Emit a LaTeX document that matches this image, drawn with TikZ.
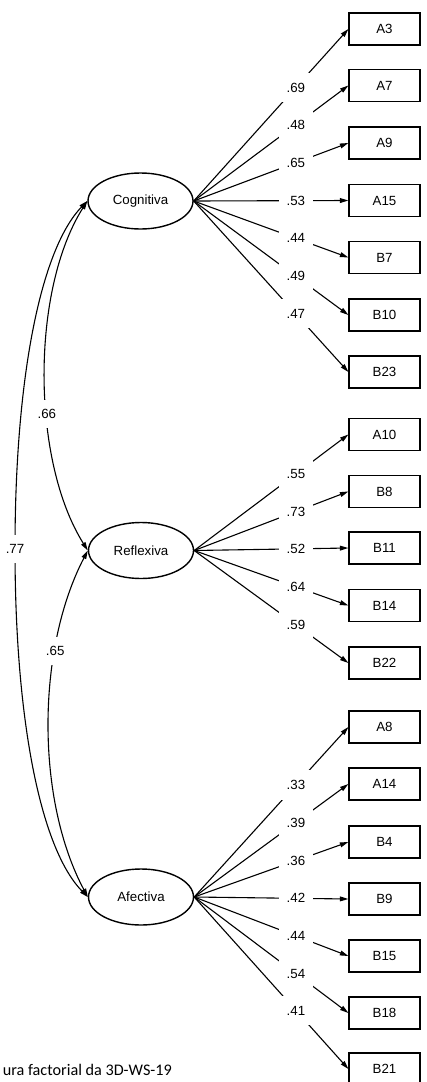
\documentclass[tikz,border=0pt]{standalone}
\usepackage{fontspec}
\setmainfont{Liberation Sans}
\newfontfamily\capfont{Carlito}
\usetikzlibrary{arrows.meta,shapes.geometric}
\begin{document}
\begin{tikzpicture}[x=1pt,y=-1pt,
  font=\fontsize{13.3}{15}\selectfont,
  obs/.style={draw, line width=1.2pt, minimum width=71pt, minimum height=32pt, inner sep=0pt},
  lat/.style={draw, ellipse, line width=1.4pt, minimum width=105pt, minimum height=56pt, inner sep=0pt},
  tip/.tip={Triangle[length=8.5pt,width=4.8pt]},
  load/.style={line width=1.1pt, -tip},
  cov/.style={line width=1.1pt, tip-tip},
  lbl/.style={fill=white, inner xsep=7.5pt, inner ysep=10pt, pos=0.66},
  clbl/.style={fill=white, inner xsep=3pt, inner ysep=9pt}
]
\useasboundingbox (0,0) rectangle (427,1082);

% latent variables
\node[lat] (cog) at (140.5,201) {Cognitiva};
\node[lat] (ref) at (141,550.5) {Reflexiva};
\node[lat] (afe) at (141,897) {Afectiva};

% observed variables
\foreach \n/\y in {A3/29, A7/85.5, A9/143, A15/200.5, B7/257.5, B10/315, B23/372,
                   A10/434.5, B8/491.5, B11/548, B14/605.5, B22/663,
                   A8/727, A14/784, B4/842, B9/899, B15/956, B18/1013, B21/1069}
  \node[obs] (\n) at (384.5,\y) {\n};

% loadings
\foreach \n/\v in {A3/.69, A7/.48, A9/.65, A15/.53, B7/.44, B10/.49, B23/.47}
  \draw[load] (cog.east) -- node[lbl] {\v} (\n.west);
\foreach \n/\v in {A10/.55, B8/.73, B11/.52, B14/.64, B22/.59}
  \draw[load] (ref.east) -- node[lbl] {\v} (\n.west);
\foreach \n/\v in {A8/.33, A14/.39, B4/.36, B9/.42, B15/.44, B18/.54, B21/.41}
  \draw[load] (afe.east) -- node[lbl] {\v} (\n.west);

% covariances
\coordinate (m77) at (15,549);
\draw[cov] (cog.west) .. controls (40,250) and (15,380) .. (m77)
  node[clbl] {.77}
  .. controls (15,718) and (40,848) .. (afe.west);
\draw[cov] (cog.west) .. controls (31,290) and (31,460) .. node[clbl, pos=0.6] {.66} (ref.west);
\draw[cov] (ref.west) .. controls (36,650) and (36,800) .. node[clbl, pos=0.3] {.65} (afe.west);

% caption (cut at the left edge)
\node[anchor=base east, inner sep=0pt, font=\capfont\fontsize{16.2}{18}\selectfont] (cap) at (172,1075) {ura factorial da 3D-WS-19};
\end{tikzpicture}
\end{document}
